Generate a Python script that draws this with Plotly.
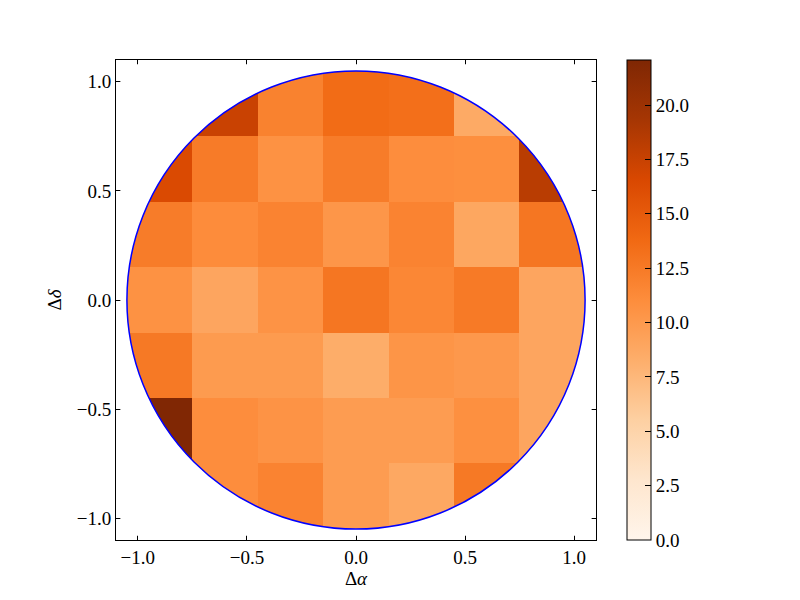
import numpy as np
import plotly.graph_objects as go

# cell centres of the 7x7 grid (delta alpha / delta delta)
x_centers = [-0.9, -0.6, -0.3, 0.0, 0.3, 0.6, 0.9]
y_centers = [0.9, 0.6, 0.3, 0.0, -0.3, -0.6, -0.9]

# rows listed top to bottom, None = cell fully outside the aperture
row_p09 = [None, 17.4, 11.9, 13.6, 13.3, 8.6, None]
row_p06 = [16.4, 12.4, 10.6, 12.3, 11.0, 10.9, 18.3]
row_p03 = [12.3, 11.1, 11.8, 10.3, 11.8, 8.9, 12.8]
row_000 = [10.6, 9.0, 10.5, 12.8, 11.5, 12.5, 9.0]
row_m03 = [12.6, 9.9, 9.9, 8.4, 10.4, 10.1, 9.0]
row_m06 = [22.0, 11.0, 10.5, 9.8, 9.8, 10.8, 9.0]
row_m09 = [None, 11.0, 11.8, 9.8, 8.8, 12.6, None]

cbar_ticks = [0.0, 2.5, 5.0, 7.5, 10.0, 12.5, 15.0, 17.5, 20.0]
axis_ticks = [-1.0, -0.5, 0.0, 0.5, 1.0]

radius = 1.05
zmax = 22.07

oranges = [
    [0.0, "#fff5eb"], [0.125, "#fee6ce"], [0.25, "#fdd0a2"],
    [0.375, "#fdae6b"], [0.5, "#fd8d3c"], [0.625, "#f16913"],
    [0.75, "#d94801"], [0.875, "#a63603"], [1.0, "#7f2704"],
]

z = [row_p09, row_p06, row_p03, row_000, row_m03, row_m06, row_m09]

font = dict(family="Liberation Serif, DejaVu Serif, serif", size=19, color="black")

fig = go.Figure()
fig.add_trace(
    go.Heatmap(
        x=x_centers,
        y=y_centers,
        z=z,
        zmin=0,
        zmax=zmax,
        colorscale=oranges,
        hoverongaps=False,
        colorbar=dict(
            x=1.065,
            xanchor="left",
            y=0.5,
            len=1.0,
            lenmode="fraction",
            thickness=24,
            outlinecolor="black",
            outlinewidth=1,
            ticks="inside",
            ticklen=6,
            tickcolor="black",
            tickvals=cbar_ticks,
            ticktext=[f"{t:.1f}" for t in cbar_ticks],
            tickfont=font,
            xpad=0,
            ypad=0,
        ),
    )
)

# white mask outside the circular aperture (rectangle minus circle)
theta = np.linspace(0, 2 * np.pi, 361)
cx = radius * np.cos(theta)
cy = radius * np.sin(theta)
e = 1.08
mask = f"M{-e},{-e} L{e},{-e} L{e},{e} L{-e},{e} Z "
mask += "M" + " L".join(f"{a:.5f},{b:.5f}" for a, b in zip(cx, cy)) + " Z"
fig.add_shape(type="path", path=mask, xref="x", yref="y", fillcolor="white",
              fillrule="evenodd", line=dict(width=0), layer="above")
fig.add_shape(type="circle", x0=-radius, x1=radius, y0=-radius, y1=radius,
              xref="x", yref="y", line=dict(color="blue", width=1.5), layer="above")

axis = dict(
    range=[-1.1, 1.1],
    tickvals=axis_ticks,
    ticktext=[f"{t:.1f}".replace("-", "\u2212") for t in axis_ticks],
    ticks="inside",
    ticklen=6,
    tickcolor="black",
    showline=True,
    linecolor="black",
    linewidth=1,
    mirror="ticks",
    showgrid=False,
    zeroline=False,
    tickfont=font,
)

# page body adds an 8px offset, so margins are shifted to compensate
fig.update_layout(
    width=800,
    height=600,
    margin=dict(l=108, r=212, t=52, b=68),
    paper_bgcolor="white",
    plot_bgcolor="white",
    font=font,
    xaxis=dict(axis, title=dict(text="Δ<i>α</i>", font=font, standoff=4)),
    yaxis=dict(axis, title=dict(text="Δ<i>δ</i>", font=font, standoff=10)),
)

fig.write_html("out.html")
